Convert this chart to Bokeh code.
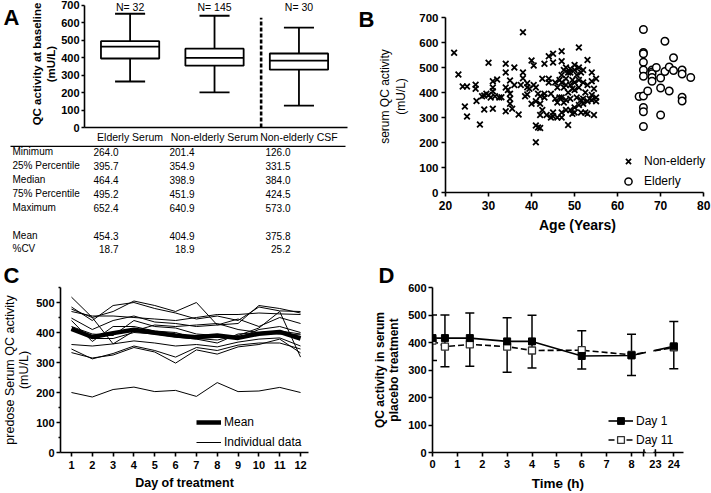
from bokeh.plotting import figure
from bokeh.models import (Range1d, FixedTicker, Legend, LegendItem, LinearAxis,
                          Whisker, TeeHead, BoxAnnotation, ColumnDataSource)
from bokeh.layouts import row, column
from bokeh.embed import file_html
from bokeh.resources import INLINE
from bokeh.core.properties import value

FONT = "Liberation Sans"

# ---------------- Panel A data ----------------
groups = ["Elderly Serum", "Non-elderly Serum", "Non-elderly CSF"]
n_counts = [32, 145, 30]
box_min = [264.0, 201.4, 126.0]
box_q1 = [395.7, 354.9, 331.5]
box_med = [464.4, 398.9, 384.0]
box_q3 = [495.2, 451.9, 424.5]
box_max = [652.4, 640.9, 573.0]
box_mean = [454.3, 404.9, 375.8]
box_cv = [18.7, 18.9, 25.2]
table_rows = ["Minimum", "25% Percentile", "Median", "75% Percentile", "Maximum", "", "Mean", "%CV"]

# ---------------- Panel B data ----------------
young_age = [22, 23, 24, 24.5, 25, 25, 27, 27, 27.2, 28, 28.5, 29, 29, 29.5,
             30, 30, 30.5, 31, 31, 31, 31, 31.5, 32, 32.5, 33, 34, 34, 34, 34, 34.5,
             35, 35, 35, 35, 35.5, 36, 36, 37, 37.5, 38, 38, 38, 38.5,
             39, 39, 39.5, 39, 40, 40.5, 40, 40.5, 41, 41, 41.5, 41, 41.5, 41,
             42, 42, 42.5, 42, 42.5, 42, 43, 43, 43.5, 43, 44, 44, 44.5, 44, 44.5,
             45, 45, 45.5, 45, 45, 45.5, 46, 46, 46.5, 46, 46.5,
             47, 47, 47.5, 47, 47, 47.5, 47, 47.5, 47, 47,
             48, 48.5, 48, 48, 48.5, 48, 48, 48.5,
             49, 49, 49.5, 49, 49.5, 49, 49, 49.5,
             50, 50, 50.5, 50, 50, 50.5, 50, 50,
             51, 51, 51.5, 51, 51, 51.5, 51, 51.5,
             52, 52, 52.5, 52, 52, 52.5, 53, 53, 53.5, 53, 53,
             54, 54, 54.5, 54, 54, 54.5, 55, 55, 55]
young_qc = [559, 472, 424, 344, 424, 304, 431, 415, 366, 272, 385, 332, 388, 395,
            519, 390, 380, 405, 445, 420, 335, 385, 452, 380, 381, 515, 480, 420, 325, 410,
            448, 395, 375, 355, 335, 500, 430, 312, 430, 641, 480, 457, 385,
            437, 421, 415, 392, 528, 508, 355, 430, 365, 268, 260, 420, 395, 201,
            258, 355, 330, 310, 455, 385, 515, 395, 310, 380, 545, 455, 395, 440, 300,
            555, 520, 440, 320, 305, 375, 300, 420, 380, 360, 450,
            565, 525, 490, 470, 440, 420, 380, 360, 320, 300,
            500, 480, 455, 430, 400, 370, 330, 270,
            495, 480, 450, 430, 415, 375, 330, 315,
            510, 490, 470, 440, 410, 380, 340, 320,
            580, 500, 480, 450, 420, 370, 350, 320,
            490, 440, 400, 375, 355, 320, 530, 430, 375, 365, 315,
            480, 445, 415, 390, 370, 310, 455, 380, 365]
old_age = [65, 66, 66, 66, 66, 66, 66, 66, 66, 66, 66, 67, 68, 68, 68, 68, 68, 69,
           70, 70, 70, 71, 71, 72, 72, 73, 73, 75, 75, 75, 75, 77]
old_qc = [384, 652, 560, 555, 521, 490, 465, 386, 340, 323, 264, 406, 490, 482, 475, 460, 445, 500,
          458, 418, 310, 605, 484, 502, 406, 539, 488, 490, 474, 381, 366, 460]

# ---------------- Panel C data ----------------
days = [1, 2, 3, 4, 5, 6, 7, 8, 9, 10, 11, 12]
mean_qc = [412, 385, 398, 409, 399, 390, 384, 390, 382, 396, 402, 380]
individual_qc = [
    [518, 450, 362, 405, 425, 420, 425, 430, 410, 400, 405, 395],
    [485, 440, 490, 500, 480, 465, 445, 455, 440, 485, 472, 470],
    [478, 450, 470, 505, 490, 470, 500, 425, 430, 490, 480, 465],
    [470, 455, 455, 450, 445, 440, 450, 460, 460, 465, 462, 460],
    [448, 410, 440, 455, 435, 430, 420, 425, 445, 420, 450, 430],
    [440, 370, 420, 420, 405, 400, 380, 375, 390, 415, 470, 318],
    [420, 395, 390, 440, 420, 415, 395, 390, 380, 410, 420, 400],
    [410, 380, 380, 400, 395, 385, 378, 365, 395, 400, 395, 392],
    [360, 355, 362, 372, 365, 355, 360, 352, 368, 378, 382, 355],
    [345, 312, 330, 355, 340, 318, 350, 340, 358, 365, 365, 345],
    [333, 315, 325, 350, 335, 298, 342, 328, 352, 360, 378, 332],
    [200, 185, 210, 218, 203, 207, 187, 233, 203, 205, 217, 200],
]

# ---------------- Panel D data ----------------
time_h = [0, 0.5, 1.5, 3, 4, 6, 8, 24]
day1_qc = [416, 416, 416, 404, 404, 351, 353, 386]
day11_qc = [407, 385, 393, 385, 371, 372, 355, 382]
err_hi = [500, 500, 507, 490, 499, 443, 430, 476]
err_lo = [335, 312, 314, 292, 307, 304, 280, 305]
x_ticks_h = [0, 1, 2, 3, 4, 5, 6, 7, 8, 23, 24]


def brk(h):
    # broken time axis: 0-8.5 h, then 23-24.5 h compressed
    return h if h <= 8.5 else 8.96 + (h - 23) * 0.74


def base_fig(w, h, xr, yr, l, r, t, b):
    p = figure(width=w, height=h, x_range=xr, y_range=yr, output_backend="svg",
               toolbar_location=None, min_border_left=l, min_border_right=r,
               min_border_top=t, min_border_bottom=b, frame_align=False)
    p.outline_line_color = None
    p.xgrid.visible = False
    p.ygrid.visible = False
    for ax in p.axis:
        ax.axis_line_width = 1.6
        ax.axis_line_color = "black"
        ax.major_tick_line_width = 1.6
        ax.major_tick_line_color = "black"
        ax.major_tick_out = 4
        ax.major_tick_in = 0
        ax.minor_tick_line_color = None
        ax.major_label_text_font = FONT
        ax.major_label_text_font_style = "bold"
        ax.major_label_text_font_size = "11px"
        ax.major_label_text_color = "black"
        ax.major_label_standoff = 2
        ax.axis_label_text_font = FONT
        ax.axis_label_text_font_size = "13px"
        ax.axis_label_text_color = "black"
        ax.axis_label_text_font_style = "bold"
    return p


def letter_axis(p, yval, txt, standoff):
    # panel letter drawn as the single tick label of an extra, line-less left axis
    ax = LinearAxis(ticker=FixedTicker(ticks=[yval]), major_label_overrides={yval: txt},
                    axis_line_color=None, major_tick_line_color=None,
                    minor_tick_line_color=None, major_tick_out=0, major_tick_in=0,
                    major_label_standoff=standoff, major_label_text_font=FONT,
                    major_label_text_font_size="22px", major_label_text_font_style="bold",
                    major_label_text_color="black")
    p.add_layout(ax, "left")


def letter_title(p, txt, offset):
    p.title.text = txt
    p.title.align = "left"
    p.title.offset = offset
    p.title.standoff = 0
    p.title.vertical_align = "bottom"
    p.title.text_font = FONT
    p.title.text_font_size = "22px"
    p.title.text_font_style = "bold"
    p.title.text_color = "black"


def legend_style(lg):
    lg.background_fill_alpha = 0
    lg.border_line_alpha = 0
    lg.padding = 0
    lg.margin = 0
    lg.label_text_font = FONT
    lg.label_text_font_size = "12px"
    lg.label_text_color = "black"


# ================= Panel A =================
pos = [1, 2, 3]
pA = base_fig(355, 145, Range1d(0.460, 3.575), Range1d(0, 728.5), 76, 8, 0, 17)
pA.xaxis.ticker = FixedTicker(ticks=pos)
pA.xaxis.major_label_overrides = {p_: g for p_, g in zip(pos, groups)}
pA.xaxis.major_tick_out = 0
pA.xaxis.major_label_standoff = 3
pA.xaxis.major_label_text_font_style = "normal"
pA.xaxis.major_label_text_font_size = "10.5px"
pA.yaxis.ticker = FixedTicker(ticks=[0, 100, 200, 300, 400, 500, 600, 700])
pA.yaxis.bounds = (0, 700)
pA.yaxis.major_tick_out = 3
pA.yaxis.major_label_text_font_size = "11px"
pA.yaxis.axis_label = "QC activity at baseline\n(mU/L)"
pA.yaxis.axis_label_text_font_size = "11.5px"
pA.yaxis.axis_label_standoff = 1

bw = 0.69
cw = 0.356
pA.segment(x0=pos, y0=box_q3, x1=pos, y1=box_max, line_color="black", line_width=1.8)
pA.segment(x0=pos, y0=box_min, x1=pos, y1=box_q1, line_color="black", line_width=1.8)
pA.segment(x0=[x - cw / 2 for x in pos], y0=box_max, x1=[x + cw / 2 for x in pos], y1=box_max,
           line_color="black", line_width=1.8)
pA.segment(x0=[x - cw / 2 for x in pos], y0=box_min, x1=[x + cw / 2 for x in pos], y1=box_min,
           line_color="black", line_width=1.8)
pA.vbar(x=pos, width=bw, bottom=box_q1, top=box_q3, fill_color="white",
        line_color="black", line_width=1.8)
pA.segment(x0=[x - bw / 2 for x in pos], y0=box_med, x1=[x + bw / 2 for x in pos], y1=box_med,
           line_color="black", line_width=1.8)
sep_x = 2.552
pA.line(x=[sep_x, sep_x], y=[0, 630], line_color="black", line_width=2.6, line_dash="4 2")
pA.text(x=pos, y=[694] * len(pos), text=[f"N= {n}" for n in n_counts],
        text_align="center", text_baseline="middle", text_font=value(FONT),
        text_font_size="10.5px", text_color="black")
letter_axis(pA, 683, "A", 8)

# ================= Table =================
pT = figure(width=355, height=113, x_range=Range1d(0, 355), y_range=Range1d(113, 0),
            output_backend="svg", toolbar_location=None, min_border=0,
            x_axis_location=None, y_axis_location=None, frame_align=False)
pT.outline_line_color = None
pT.xgrid.visible = False
pT.ygrid.visible = False
pT.segment(x0=[10], y0=[0.8], x1=[345], y1=[0.8], line_color="black", line_width=1.5)
row_y = [6 + i * 14 for i in range(len(table_rows))]
row_y[-1] -= 1
pT.text(x=[12] * len(table_rows), y=row_y, text=table_rows, text_align="left",
        text_baseline="middle", text_font=value(FONT), text_font_size="10px", text_color="black")
col_x = [118, 194, 290]
for gi in range(len(groups)):
    vals = [box_min[gi], box_q1[gi], box_med[gi], box_q3[gi], box_max[gi], None,
            box_mean[gi], box_cv[gi]]
    txt = ["" if v is None else f"{v:.1f}" for v in vals]
    pT.text(x=[col_x[gi]] * len(txt), y=row_y, text=txt, text_align="right",
            text_baseline="middle", text_font=value(FONT), text_font_size="10px",
            text_color="black")

# ================= Panel C =================
pC = base_fig(355, 235, Range1d(0.474, 12.382), Range1d(0, 550), 59, 47, 29, 41)
pC.xaxis.ticker = FixedTicker(ticks=days)
pC.yaxis.ticker = FixedTicker(ticks=[0, 100, 200, 300, 400, 500],
                              minor_ticks=[50, 150, 250, 350, 450, 550])
pC.yaxis.minor_tick_line_color = "black"
pC.yaxis.minor_tick_line_width = 1.4
pC.yaxis.minor_tick_out = 2
pC.yaxis.minor_tick_in = 0
pC.xaxis.major_label_standoff = 4
pC.xaxis.axis_label = "Day of treatment"
pC.xaxis.axis_label_text_font_size = "12.5px"
pC.xaxis.axis_label_standoff = 4
pC.yaxis.axis_label = "predose Serum QC activity\n(mU/L)"
pC.yaxis.axis_label_text_font_style = "normal"
pC.yaxis.axis_label_text_font_size = "12.5px"
pC.yaxis.axis_label_text_line_height = 1.0
pC.yaxis.axis_label_standoff = 2
r_ind = pC.multi_line(xs=[days] * len(individual_qc), ys=individual_qc,
                      line_color="black", line_width=1)
r_mean = pC.line(days, mean_qc, line_color="black", line_width=4.5)
lgC = Legend(items=[LegendItem(label="Mean", renderers=[r_mean]),
                    LegendItem(label="Individual data", renderers=[r_ind])],
             location=(136, 1), glyph_width=25, glyph_height=18, label_height=18,
             spacing=2, label_standoff=3)
legend_style(lgC)
pC.add_layout(lgC)
letter_title(pC, "C", -57)

# ================= Panel B =================
pB = base_fig(356, 245, Range1d(20, 81.36), Range1d(0, 768), 84, 2, 0, 53)
pB.xaxis.ticker = FixedTicker(ticks=[20, 30, 40, 50, 60, 70, 80])
pB.xaxis.bounds = (20, 80)
pB.yaxis.ticker = FixedTicker(ticks=[0, 100, 200, 300, 400, 500, 600, 700])
pB.yaxis.bounds = (0, 700)
pB.xaxis.major_label_text_font_size = "12px"
pB.yaxis.major_label_text_font_size = "11.5px"
pB.xaxis.major_label_standoff = 4
pB.yaxis.major_label_standoff = 3
pB.xaxis.axis_label = "Age (Years)"
pB.xaxis.axis_label_text_font_size = "14px"
pB.xaxis.axis_label_standoff = 4
pB.yaxis.axis_label = "serum QC activity\n(mU/L)"
pB.yaxis.axis_label_text_font_style = "normal"
pB.yaxis.axis_label_text_font_size = "12px"
pB.yaxis.axis_label_standoff = 8
r_young = pB.scatter(young_age, young_qc, marker="x", size=8, line_color="black",
                     line_width=1.8)
r_old = pB.scatter(old_age, old_qc, marker="circle", size=7.5, fill_color="white",
                   line_color="black", line_width=1.5)
lgB = Legend(items=[LegendItem(label="Non-elderly", renderers=[r_young]),
                    LegendItem(label="Elderly", renderers=[r_old])],
             location=(173, 2), glyph_width=20, glyph_height=18, label_height=18,
             spacing=2, label_standoff=6)
legend_style(lgB)
pB.add_layout(lgB)
letter_axis(pB, 745, "B", 0)

# ================= Panel D =================
xd = [brk(h) for h in time_h]
tick_pos = [brk(h) for h in x_ticks_h]
brk_marks = [8.5, brk(23)]
pD = base_fig(356, 248, Range1d(0, 10.09), Range1d(0, 600), 77, 28, 42, 41)
pD.xaxis.ticker = FixedTicker(ticks=tick_pos + [8.5])
overrides = {tp: str(h) for tp, h in zip(tick_pos, x_ticks_h)}
overrides[8.5] = ""
pD.xaxis.major_label_overrides = overrides
pD.yaxis.ticker = FixedTicker(ticks=[0, 100, 200, 300, 400, 500, 600])
pD.xaxis.major_label_standoff = 3
pD.xaxis.axis_label = "Time (h)"
pD.xaxis.axis_label_text_font_size = "13.5px"
pD.xaxis.axis_label_standoff = 5
pD.yaxis.axis_label = "QC activity in serum\nplacebo treatment"
pD.yaxis.axis_label_text_font_size = "12px"
pD.yaxis.axis_label_text_line_height = 1.0
pD.yaxis.axis_label_standoff = 4

src = ColumnDataSource(data=dict(x=xd, hi=err_hi, lo=err_lo))
pD.add_layout(Whisker(source=src, base="x", upper="hi", lower="lo", line_color="black",
                      line_width=1.5, level="underlay",
                      upper_head=TeeHead(size=9, line_width=1.5, line_color="black"),
                      lower_head=TeeHead(size=9, line_width=1.5, line_color="black")))
l1 = pD.line(xd, day1_qc, line_color="black", line_width=1.6)
l11 = pD.line(xd, day11_qc, line_color="black", line_width=1.6, line_dash="6 3")
s11 = pD.scatter(xd, day11_qc, marker="square", size=7, fill_color="white",
                 line_color="#333333", line_width=1.3)
s1 = pD.scatter(xd, day1_qc, marker="square", size=7, fill_color="black",
                line_color="black")
pD.segment(x0=brk_marks, y0=[0, 0], x1=brk_marks, y1=[12, 12], line_color="black",
           line_width=1.6)
pD.add_layout(BoxAnnotation(left=8.58, right=8.88, bottom=-12, top=605, fill_color="white",
                            fill_alpha=1, line_alpha=0, level="overlay"))
lgD = Legend(items=[LegendItem(label="Day 1", renderers=[l1, s1]),
                    LegendItem(label="Day 11", renderers=[l11, s11])],
             location=(176, 4), glyph_width=25, glyph_height=17, label_height=17,
             spacing=2, label_standoff=3)
legend_style(lgD)
pD.add_layout(lgD)
letter_title(pD, "D", -54)

layout = row(column(pA, pT, pC), column(pB, pD))
open("out.html", "w").write(file_html(layout, INLINE))
